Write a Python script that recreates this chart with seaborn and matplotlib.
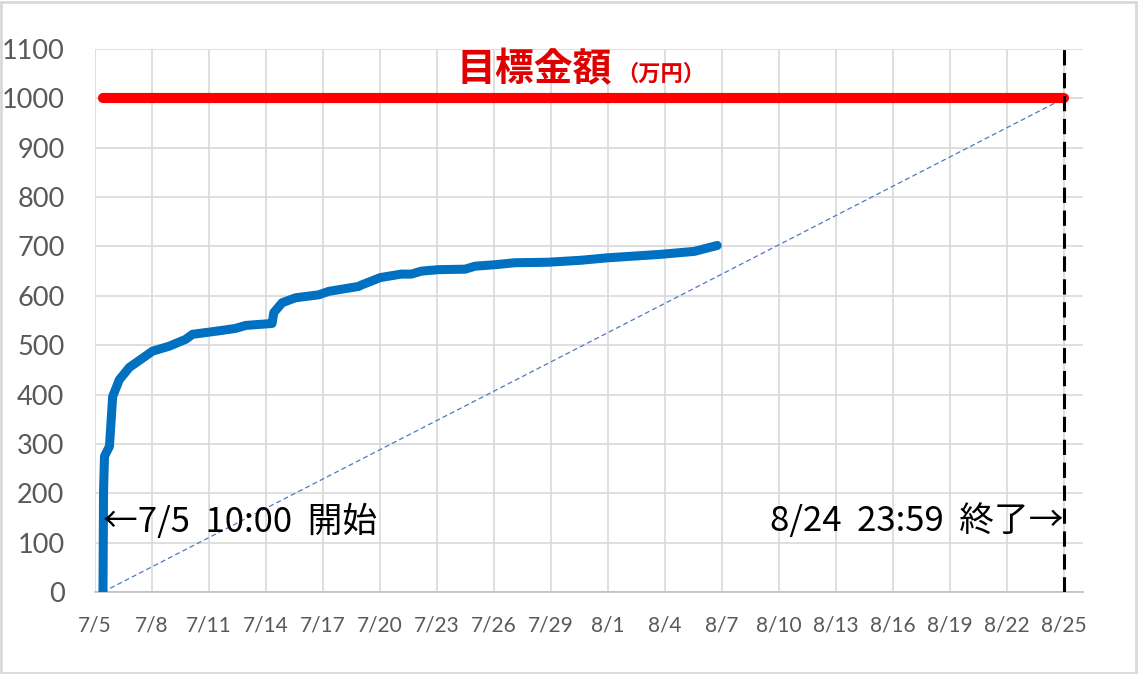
import pandas as pd
import seaborn as sns
import matplotlib.pyplot as plt
from matplotlib.patches import Rectangle

# data
start_date = "2021-07-05"
elapsed_days = [0.42, 0.45, 0.50, 0.76, 0.93, 1.28, 1.81, 3.03, 3.91, 4.78,
                5.13, 6.70, 7.40, 7.93, 9.32, 9.41, 9.85, 10.55, 11.77, 12.30,
                13.87, 14.03, 15.02, 16.12, 16.65, 17.18, 18.07, 19.48, 20.00, 21.05,
                22.10, 23.84, 25.56, 26.98, 29.76, 31.54, 32.75]
amount = [0, 205, 275, 295, 396, 430, 455, 488, 498, 512,
          522, 530, 534, 540, 544, 566, 586, 596, 602, 609,
          619, 622, 637, 644, 644, 650, 653, 654, 660, 663,
          667, 668, 672, 677, 684, 690, 702]

goal = 1000
open_time = "2021-07-05 10:00"
close_time = "2021-08-24 23:59"
axis_end = "2021-08-26"
yticks = list(range(0, 1101, 100))

df = pd.DataFrame({
    "time": pd.Timestamp(start_date) + pd.to_timedelta(elapsed_days, unit="D"),
    "amount": amount,
})
pace = pd.DataFrame({
    "time": pd.to_datetime([open_time, close_time]),
    "amount": [0, goal],
})

sns.set_style("whitegrid")
plt.rcParams["font.family"] = ["Lato", "DejaVu Sans"]
jp = ["Noto Sans CJK JP", "DejaVu Sans"]

fig = plt.figure(figsize=(11.38, 6.74), dpi=100)
ax = fig.add_axes([95 / 1138, 82 / 674, 988 / 1138, 543 / 674])

# pace line to the goal
sns.lineplot(data=pace, x="time", y="amount", ax=ax, color="#4f79c0",
             linewidth=0.9, linestyle=(0, (4, 2.5)))
# goal line
ax.plot(pd.to_datetime([open_time, close_time]), [goal, goal], color="#ff0000",
        linewidth=7.3, solid_capstyle="round", zorder=4)
# close line
ax.axvline(pd.Timestamp(close_time), color="black", linewidth=2.2,
           linestyle=(0, (5, 2.5)), zorder=5)
# collected amount
sns.lineplot(data=df, x="time", y="amount", ax=ax, color="#0070c0",
             linewidth=6.5, zorder=6)
ax.lines[-1].set_solid_capstyle("round")
ax.lines[-1].set_solid_joinstyle("round")

ticks = pd.date_range(start_date, "2021-08-25", freq="3D")
ax.set_xticks(ticks)
ax.set_xticklabels([f"{d.month}/{d.day}" for d in ticks])
ax.set_xlim(pd.Timestamp(start_date), pd.Timestamp(axis_end))
ax.set_ylim(0, 1100)
ax.set_yticks(yticks)
ax.set_xlabel("")
ax.set_ylabel("")

ax.grid(True, color="#d9d9d9", linewidth=1.2)
for s in ["top", "right", "left"]:
    ax.spines[s].set_visible(False)
ax.spines["bottom"].set_color("#bfbfbf")
ax.spines["bottom"].set_linewidth(1.2)
ax.tick_params(axis="y", length=0, pad=22, labelsize=19.5, labelcolor="#595959")
ax.tick_params(axis="x", length=0, pad=17, labelsize=15, labelcolor="#595959")

ax.text(pd.Timestamp(open_time), 142, "←7/5  10:00  開始", family=jp,
        fontsize=25, ha="left", va="center", color="black", zorder=7)
ax.text(pd.Timestamp(close_time), 142, "8/24  23:59  終了→", family=jp,
        fontsize=25, ha="right", va="center", color="black", zorder=7)

fig.text(612 / 1138, 1 - 70 / 674, "目標金額", family=jp, fontsize=28,
         fontweight="bold", color="#e00000", ha="right", va="center")
fig.text(616 / 1138, 1 - 74 / 674, "（万円）", family=jp, fontsize=16,
         fontweight="bold", color="#e00000", ha="left", va="center")

fig.patches.append(Rectangle((0.001, 0.002), 0.997, 0.995, transform=fig.transFigure,
                             fill=False, edgecolor="#d9d9d9", linewidth=2))

fig.savefig("out.png", dpi=100)
